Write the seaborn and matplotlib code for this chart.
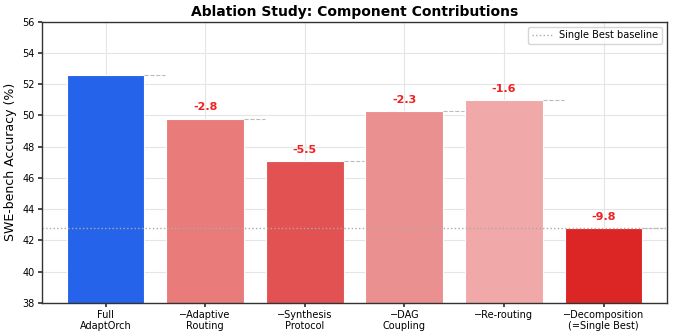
import numpy as np
import pandas as pd
import matplotlib
matplotlib.use("Agg")
import matplotlib.pyplot as plt
import seaborn as sns

# Data
configs = ["Full\nAdaptOrch", "\u2212Adaptive\nRouting", "\u2212Synthesis\nProtocol",
           "\u2212DAG\nCoupling", "\u2212Re-routing", "\u2212Decomposition\n(=Single Best)"]
accuracy = [52.6, 49.8, 47.1, 50.3, 51.0, 42.8]
deltas = [None, -2.8, -5.5, -2.3, -1.6, -9.8]
baseline = 42.8

bar_colors = ["#2563EB", "#E97B7B", "#E25252", "#EA9090", "#F0A8A8", "#DC2626"]

sns.set_theme(style="whitegrid")
plt.rcParams["font.family"] = ["DejaVu Sans"]
plt.rcParams["text.color"] = "black"
plt.rcParams["axes.labelcolor"] = "black"
plt.rcParams["xtick.color"] = "black"
plt.rcParams["ytick.color"] = "black"

df = pd.DataFrame({"Config": configs, "Accuracy": accuracy})

fig, ax = plt.subplots(figsize=(6.74, 3.34), dpi=100)
sns.barplot(data=df, x="Config", y="Accuracy", hue="Config", palette=bar_colors,
            saturation=1, legend=False, width=0.78, edgecolor="white", linewidth=0.8, ax=ax)

ax.axhline(baseline, color="#aaaaaa", linestyle=":", linewidth=1.0, label="Single Best baseline")

for i, (acc, d) in enumerate(zip(accuracy, deltas)):
    # short dashed line at bar top
    ax.plot([i + 0.39, i + 0.6], [acc, acc], color="#bbbbbb", linestyle="--", linewidth=0.8)
    if d is not None:
        ax.text(i, acc + 0.4, f"{d:.1f}", ha="center", va="bottom",
                color="#EF2020", fontsize=8, fontweight="bold")

ax.set_xlim(-0.64, 5.64)
ax.set_ylim(38, 56)
ax.set_yticks(np.arange(38, 57, 2))
ax.set_xlabel("")
ax.set_ylabel("SWE-bench Accuracy (%)", fontsize=9)
ax.set_title("Ablation Study: Component Contributions", fontsize=10, fontweight="bold", pad=4)
ax.tick_params(axis="both", labelsize=7, length=3, pad=2, color="#333333")
ax.tick_params(axis="x", bottom=True)
ax.tick_params(axis="y", left=True)
ax.grid(True, color="#e5e5e5", linewidth=0.8)
ax.set_axisbelow(True)
for s in ax.spines.values():
    s.set_color("#333333")
    s.set_linewidth(1.0)
ax.set_facecolor("white")

ax.legend(loc="upper right", fontsize=7, frameon=True)

plt.subplots_adjust(left=0.062, right=0.99, top=0.935, bottom=0.093)
plt.savefig("out.png", dpi=100)
